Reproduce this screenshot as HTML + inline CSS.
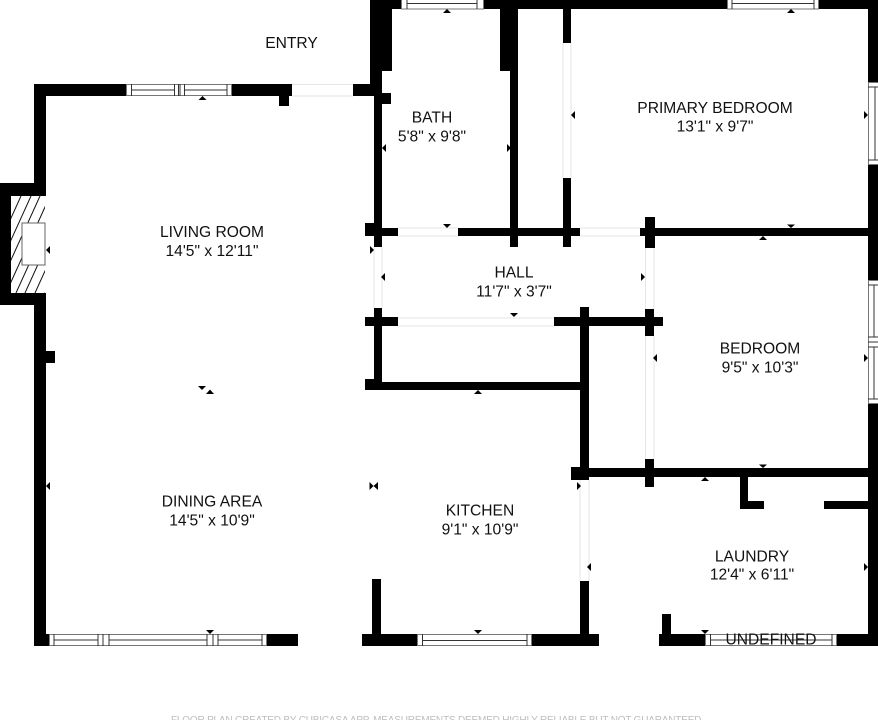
<!DOCTYPE html>
<html lang="en">
<head>
<meta charset="utf-8">
<title>Floor plan</title>
<style>
html,body{margin:0;padding:0;background:#fff;width:878px;height:720px;overflow:hidden}
svg{display:block}
text{font-family:"Liberation Sans",Arial,sans-serif;font-size:15.6px;fill:#111;text-anchor:middle}
.w rect{fill:#000}
.d line{stroke:#e6e6e6;stroke-width:1}
.win .b{fill:#fff;stroke:#777;stroke-width:1}
.win line{stroke:#333;stroke-width:1}
.t polygon{fill:#000}
</style>
</head>
<body>
<svg width="878" height="720" viewBox="0 0 878 720" xmlns="http://www.w3.org/2000/svg">
<defs><clipPath id="hc"><rect x="11" y="196" width="34" height="97"/></clipPath></defs>
<rect width="878" height="720" fill="#fff"/>

<g class="d">
<line x1="292" y1="84.5" x2="353" y2="84.5"/><line x1="292" y1="96" x2="353" y2="96"/>
<line x1="398" y1="228" x2="458" y2="228"/><line x1="398" y1="236" x2="458" y2="236"/>
<line x1="580" y1="228" x2="640" y2="228"/><line x1="580" y1="236" x2="640" y2="236"/>
<line x1="398" y1="318" x2="554" y2="318"/><line x1="398" y1="326" x2="554" y2="326"/>
<line x1="563" y1="43" x2="563" y2="178"/><line x1="571" y1="43" x2="571" y2="178"/>
<line x1="374" y1="247" x2="374" y2="308"/><line x1="382" y1="247" x2="382" y2="308"/>
<line x1="645.5" y1="248" x2="645.5" y2="309"/><line x1="654" y1="248" x2="654" y2="309"/>
<line x1="645.5" y1="336" x2="645.5" y2="459"/><line x1="654" y1="336" x2="654" y2="459"/>
<line x1="580" y1="480" x2="580" y2="581"/><line x1="589" y1="480" x2="589" y2="581"/>
</g>

<g clip-path="url(#hc)" stroke="#111" stroke-width="1">
<line x1="21" y1="196" x2="-23" y2="293"/>
<line x1="31" y1="196" x2="-13" y2="293"/>
<line x1="40" y1="196" x2="-4" y2="293"/>
<line x1="50" y1="196" x2="6" y2="293"/>
<line x1="60" y1="196" x2="16" y2="293"/>
<line x1="69" y1="196" x2="25" y2="293"/>
<line x1="79" y1="196" x2="35" y2="293"/>
<line x1="89" y1="196" x2="45" y2="293"/>
</g>
<rect x="22" y="223" width="23" height="42" fill="#fff" stroke="#666" stroke-width="1"/>

<g class="w">
<rect x="34" y="84" width="92" height="12"/>
<rect x="232" y="84" width="60" height="12"/>
<rect x="279" y="96" width="10" height="10"/>
<rect x="353" y="84" width="22" height="12"/>
<rect x="34" y="84" width="12" height="112"/>
<rect x="0" y="183" width="46" height="13"/>
<rect x="0" y="183" width="11" height="122"/>
<rect x="0" y="293" width="46" height="12"/>
<rect x="34" y="293" width="12" height="353"/>
<rect x="46" y="351" width="9" height="12"/>
<rect x="34" y="634" width="15" height="12"/>
<rect x="267" y="634" width="31" height="12"/>
<rect x="370" y="0" width="31" height="9"/>
<rect x="370" y="0" width="22" height="71"/>
<rect x="370" y="71" width="12" height="25"/>
<rect x="374" y="93" width="17" height="11"/>
<rect x="374" y="96" width="8" height="151"/>
<rect x="365" y="223" width="12" height="13"/>
<rect x="365" y="228" width="33" height="8"/>
<rect x="458" y="228" width="122" height="8"/>
<rect x="500" y="0" width="18" height="71"/>
<rect x="510" y="0" width="8" height="247"/>
<rect x="563" y="0" width="8" height="43"/>
<rect x="563" y="178" width="8" height="69"/>
<rect x="484" y="0" width="243" height="9"/>
<rect x="818" y="0" width="60" height="9"/>
<rect x="868" y="0" width="10" height="82"/>
<rect x="868" y="165" width="10" height="115"/>
<rect x="868" y="404" width="10" height="242"/>
<rect x="640" y="228" width="228" height="8"/>
<rect x="645" y="217" width="10" height="31"/>
<rect x="365" y="317" width="33" height="9"/>
<rect x="374" y="308" width="8" height="75"/>
<rect x="554" y="317" width="109" height="9"/>
<rect x="580" y="307" width="9" height="173"/>
<rect x="645" y="309" width="9" height="27"/>
<rect x="365" y="379" width="11" height="11"/>
<rect x="365" y="382" width="215" height="8"/>
<rect x="571" y="468" width="297" height="9"/>
<rect x="571" y="467" width="18" height="13"/>
<rect x="645" y="459" width="9" height="28"/>
<rect x="740" y="477" width="8" height="32"/>
<rect x="740" y="501" width="24" height="8"/>
<rect x="824" y="501" width="44" height="8"/>
<rect x="362" y="634" width="55" height="12"/>
<rect x="532" y="634" width="67" height="12"/>
<rect x="372" y="579" width="9" height="55"/>
<rect x="580" y="581" width="9" height="53"/>
<rect x="659" y="634" width="46" height="12"/>
<rect x="662" y="614" width="9" height="20"/>
<rect x="837" y="634" width="41" height="12"/>
</g>

<g class="win">
<rect class="b" x="126.5" y="84.5" width="105" height="11"/>
<line x1="131.5" y1="84" x2="131.5" y2="96"/><line x1="174.5" y1="84" x2="174.5" y2="96"/><line x1="178.5" y1="84" x2="178.5" y2="96"/><line x1="180" y1="84" x2="180" y2="96"/><line x1="184.5" y1="84" x2="184.5" y2="96"/><line x1="227" y1="84" x2="227" y2="96"/>
<line x1="131" y1="90" x2="174" y2="90"/><line x1="184" y1="90" x2="227" y2="90"/>
<rect class="b" x="401.5" y="-2" width="82" height="11"/>
<line x1="407" y1="0" x2="407" y2="9"/><line x1="477" y1="0" x2="477" y2="9"/><line x1="407" y1="3.5" x2="477" y2="3.5"/>
<rect class="b" x="727.5" y="-2" width="91" height="11"/>
<line x1="732" y1="0" x2="732" y2="9"/><line x1="814" y1="0" x2="814" y2="9"/><line x1="732" y1="3.5" x2="814" y2="3.5"/>
<rect class="b" x="868.5" y="82.5" width="12" height="82"/>
<line x1="868" y1="87" x2="878" y2="87"/><line x1="868" y1="160" x2="878" y2="160"/><line x1="875" y1="87" x2="875" y2="160"/>
<rect class="b" x="868.5" y="280.5" width="12" height="123"/>
<line x1="868" y1="285" x2="878" y2="285"/><line x1="868" y1="337" x2="878" y2="337"/><line x1="868" y1="342" x2="878" y2="342"/><line x1="868" y1="347" x2="878" y2="347"/><line x1="868" y1="399" x2="878" y2="399"/>
<line x1="874" y1="285" x2="874" y2="337"/><line x1="874" y1="347" x2="874" y2="399"/>
<rect class="b" x="49.5" y="634.5" width="217" height="11"/>
<line x1="54" y1="634" x2="54" y2="646"/><line x1="98" y1="634" x2="98" y2="646"/><line x1="103" y1="634" x2="103" y2="646"/><line x1="109" y1="634" x2="109" y2="646"/><line x1="207" y1="634" x2="207" y2="646"/><line x1="213" y1="634" x2="213" y2="646"/><line x1="218" y1="634" x2="218" y2="646"/><line x1="262" y1="634" x2="262" y2="646"/>
<line x1="54" y1="640" x2="98" y2="640"/><line x1="109" y1="640" x2="207" y2="640"/><line x1="218" y1="640" x2="262" y2="640"/>
<rect class="b" x="417.5" y="634.5" width="114" height="11"/>
<line x1="422.5" y1="634" x2="422.5" y2="646"/><line x1="527" y1="634" x2="527" y2="646"/><line x1="422" y1="640.5" x2="527" y2="640.5"/>
<rect class="b" x="705.5" y="634.5" width="131" height="11"/>
<line x1="710.5" y1="634" x2="710.5" y2="646"/><line x1="832" y1="634" x2="832" y2="646"/><line x1="710" y1="640" x2="832" y2="640"/>
</g>

<g class="t">
<polygon points="198.5,100 202.5,96 206.5,100"/>
<polygon points="443,13 447,9 451,13"/>
<polygon points="787,13 791,9 795,13"/>
<polygon points="759,240 763,236 767,240"/>
<polygon points="474,394 478,390 482,394"/>
<polygon points="701,481 705,477 709,481"/>
<polygon points="206,394 210,389.5 214,394"/>
<polygon points="443,224 447,228 451,224"/>
<polygon points="510,313 514,317 518,313"/>
<polygon points="787,224.5 791,228 795,224.5"/>
<polygon points="759,464.5 763,468 767,464.5"/>
<polygon points="198,386 202,390 206,386"/>
<polygon points="206,630 210,634 214,630"/>
<polygon points="474,630 478,634 482,630"/>
<polygon points="701,630 705,634 709,630"/>
<polygon points="46,250 50,246 50,254"/>
<polygon points="382,148 386,144 386,152"/>
<polygon points="571,115 575,111 575,119"/>
<polygon points="381,277 385,273 385,281"/>
<polygon points="653,358 657,354 657,362"/>
<polygon points="46,486 50,482 50,490"/>
<polygon points="373.5,486 378,482 378,490"/>
<polygon points="587,567 591,563 591,571"/>
<polygon points="511,148 507,144 507,152"/>
<polygon points="868,115 864,111 864,119"/>
<polygon points="374,250 370,246 370,254"/>
<polygon points="645,277 641,273 641,281"/>
<polygon points="868,358 864,354 864,362"/>
<polygon points="373.5,486 369.5,482 369.5,490"/>
<polygon points="581,486 577,482 577,490"/>
<polygon points="868,567 864,563 864,571"/>
</g>

<text x="291.5" y="48">ENTRY</text>
<text x="432" y="122.5">BATH</text>
<text x="432" y="141.5">5'8" x 9'8"</text>
<text x="715" y="113">PRIMARY BEDROOM</text>
<text x="715" y="131.5">13'1" x 9'7"</text>
<text x="212" y="237">LIVING ROOM</text>
<text x="212" y="256">14'5" x 12'11"</text>
<text x="514" y="277.5">HALL</text>
<text x="514" y="296.5">11'7" x 3'7"</text>
<text x="760" y="353.5">BEDROOM</text>
<text x="760" y="372.5">9'5" x 10'3"</text>
<text x="212" y="506.5">DINING AREA</text>
<text x="212" y="525.5">14'5" x 10'9"</text>
<text x="480" y="515.5">KITCHEN</text>
<text x="480" y="534.5">9'1" x 10'9"</text>
<text x="752" y="561.5">LAUNDRY</text>
<text x="752" y="579.5">12'4" x 6'11"</text>
<text x="771" y="644.5">UNDEFINED</text>
<text x="437.5" y="723" style="font-size:10px;fill:#bdbdbd" textLength="533" lengthAdjust="spacing">FLOOR PLAN CREATED BY CUBICASA APP. MEASUREMENTS DEEMED HIGHLY RELIABLE BUT NOT GUARANTEED.</text>
</svg>
</body>
</html>
